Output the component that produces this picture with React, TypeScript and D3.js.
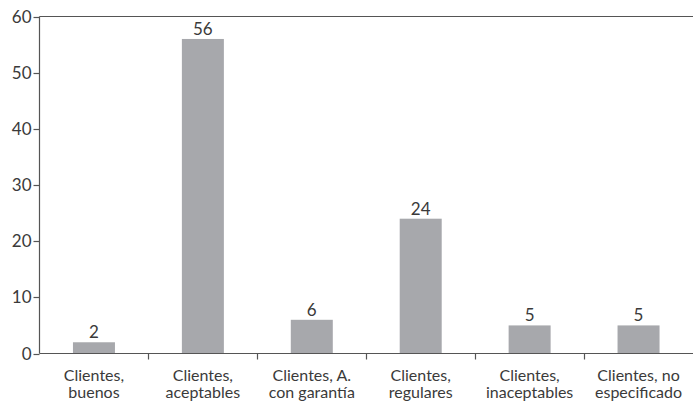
import { useEffect, useRef } from "react"
import * as d3 from "d3"

// Datos del gráfico
const categorias = [
  ["Clientes,", "buenos"],
  ["Clientes,", "aceptables"],
  ["Clientes, A.", "con garantía"],
  ["Clientes,", "regulares"],
  ["Clientes,", "inaceptables"],
  ["Clientes, no", "especificado"],
]
const valores = [2, 56, 6, 24, 5, 5]
const ticksY = [0, 10, 20, 30, 40, 50, 60]

const WIDTH = 693
const HEIGHT = 403

export default function App() {
  const svgRef = useRef<SVGSVGElement>(null)

  useEffect(() => {
    if (!svgRef.current) return
    document.body.style.margin = "0"

    const svg = d3.select(svgRef.current)
    svg.selectAll("*").remove()

    const left = 39.5
    const right = 693
    const top = 16.5
    const bottom = 353.5
    const font = "Lato, 'Open Sans', sans-serif"
    const textColor = "#3a3a3a"
    const axisColor = "#555"

    const keys = categorias.map((c) => c.join(" "))

    // Escala de bandas (sin padding) para los ticks del eje X
    const x = d3.scaleBand().domain(keys).range([left, right]).padding(0)
    const barWidth = 42

    const y = d3.scaleLinear().domain([0, 60]).range([bottom, top])

    // Barras
    svg
      .append("g")
      .selectAll("rect")
      .data(valores)
      .join("rect")
      .attr("x", (_, i) => x(keys[i])! + x.bandwidth() / 2 - barWidth / 2)
      .attr("y", (d) => y(d))
      .attr("width", barWidth)
      .attr("height", (d) => y(0) - y(d))
      .attr("fill", "#a7a8ac")

    // Etiquetas de valor
    svg
      .append("g")
      .selectAll("text")
      .data(valores)
      .join("text")
      .attr("x", (_, i) => x(keys[i])! + x.bandwidth() / 2)
      .attr("y", (d) => y(d) - 4)
      .attr("text-anchor", "middle")
      .style("font-family", font)
      .style("font-size", "17px")
      .attr("fill", textColor)
      .text((d) => d)

    // Eje Y
    svg
      .append("line")
      .attr("x1", left)
      .attr("x2", left)
      .attr("y1", top)
      .attr("y2", bottom)
      .attr("stroke", axisColor)
      .attr("stroke-width", 1.2)

    const gy = svg.append("g")
    ticksY.forEach((t) => {
      gy.append("line")
        .attr("x1", left - 6)
        .attr("x2", left)
        .attr("y1", Math.round(y(t)) + 0.5)
        .attr("y2", Math.round(y(t)) + 0.5)
        .attr("stroke", axisColor)
        .attr("stroke-width", 1.2)
      gy.append("text")
        .attr("x", left - 8)
        .attr("y", y(t))
        .attr("dy", "0.36em")
        .attr("text-anchor", "end")
        .style("font-family", font)
        .style("font-size", "17px")
        .attr("fill", textColor)
        .text(t)
    })

    // Línea superior
    svg
      .append("line")
      .attr("x1", left)
      .attr("x2", right)
      .attr("y1", top)
      .attr("y2", top)
      .attr("stroke", axisColor)
      .attr("stroke-width", 1.2)

    // Eje X
    svg
      .append("line")
      .attr("x1", left)
      .attr("x2", right)
      .attr("y1", bottom)
      .attr("y2", bottom)
      .attr("stroke", axisColor)
      .attr("stroke-width", 1.2)

    keys.forEach((k, i) => {
      const x0 = Math.round(x(k)!) + 0.5
      if (i > 0) {
        svg
          .append("line")
          .attr("x1", x0)
          .attr("x2", x0)
          .attr("y1", bottom)
          .attr("y2", bottom + 6)
          .attr("stroke", axisColor)
          .attr("stroke-width", 1.2)
      }
      const cx = x(k)! + x.bandwidth() / 2
      categorias[i].forEach((linea, j) => {
        svg
          .append("text")
          .attr("x", cx)
          .attr("y", 380.5 + j * 17.5)
          .attr("text-anchor", "middle")
          .style("font-family", font)
          .style("font-size", "16px")
          .attr("fill", textColor)
          .text(linea)
      })
    })
  }, [])

  return <svg ref={svgRef} width={WIDTH} height={HEIGHT} style={{ display: "block" }} />
}
